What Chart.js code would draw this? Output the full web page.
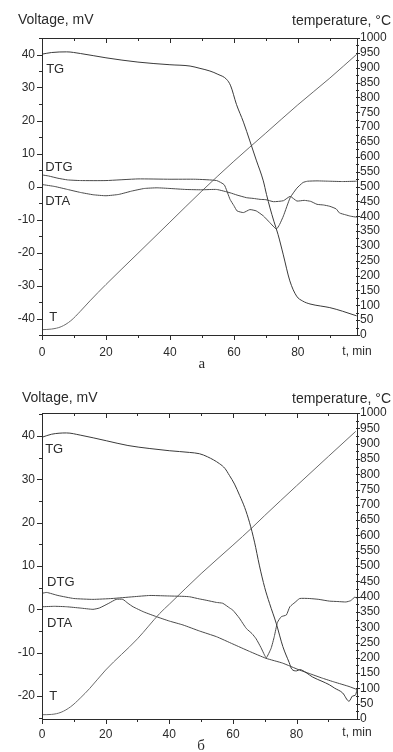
<!DOCTYPE html>
<html>
<head>
<meta charset="utf-8">
<script src="https://cdn.jsdelivr.net/npm/chart.js@4"></script>
<style>
  html, body { margin: 0; padding: 0; background: #fff; }
  body { width: 393px; height: 752px; position: relative; overflow: hidden; }
  canvas { position: absolute; left: 0; }
</style>
</head>
<body>
<canvas id="chartA" width="393" height="375" style="top:0"></canvas>
<canvas id="chartB" width="393" height="377" style="top:375px"></canvas>
<script>
// tick labels
const timeTicks = [0, 20, 40, 60, 80];
const voltTicksA = [-40, -30, -20, -10, 0, 10, 20, 30, 40];
const voltTicksB = [-20, -10, 0, 10, 20, 30, 40];
const tempTicks = [0, 50, 100, 150, 200, 250, 300, 350, 400, 450, 500, 550, 600, 650, 700, 750, 800, 850, 900, 950, 1000];

// panel "а"
const tgTimeA = [0, 3, 7.7, 12, 20, 30, 40, 46.3, 49.4, 52.5, 55, 57.7, 59, 60.8, 63, 65, 67, 69.2, 70.2, 71.3, 72.5, 73.8, 75.4, 77.5, 79.6, 81.5, 83.8, 87, 90, 94, 98.4];
const tgA = [40.1, 40.6, 40.8, 40.3, 39.0, 37.7, 36.9, 36.5, 35.8, 35.0, 34.0, 32.5, 30.5, 24.9, 19.5, 13.8, 8.0, 1.7, -2.4, -6.5, -10.5, -14.5, -20.5, -28.6, -33.2, -34.7, -35.6, -36.2, -36.7, -37.8, -39.2];
const dtgTimeA = [0, 2, 5, 8, 12, 20, 30, 40, 48, 54.6, 57, 58.8, 60, 61, 63, 65, 67, 69.2, 71.2, 73.3, 74.3, 75.5, 77.6, 79.7, 81.6, 83, 86, 90, 94, 98.4];
const dtgA = [3.5, 3.2, 2.5, 2.0, 1.8, 1.8, 2.3, 2.2, 2.2, 1.8, 0.5, -3.9, -5.8, -7.4, -7.9, -7.0, -7.4, -8.9, -10.9, -12.9, -11.5, -8.9, -3.4, -0.5, 1.2, 1.6, 1.7, 1.6, 1.5, 1.6];
const dtaTimeA = [0, 4, 8, 12, 16, 20, 24, 28, 32, 36, 40, 45, 50, 54.6, 58.8, 61, 64, 66, 68.2, 70, 72.4, 75.5, 77.6, 79.7, 82, 84, 86, 88, 90, 92, 93, 95, 96.5, 98.4];
const dtaA = [0.6, 0.0, -0.9, -1.8, -2.5, -2.8, -2.4, -1.4, -0.6, -0.4, -0.6, -0.9, -1.0, -0.9, -1.9, -2.6, -3.4, -3.6, -3.9, -4.0, -4.6, -4.3, -3.0, -4.4, -4.2, -4.5, -5.4, -5.6, -6.0, -6.8, -8.0, -8.6, -9.0, -9.3];
const tempTimeA = [0, 3, 6, 9, 12, 15, 20, 30, 40, 50, 60, 70, 80, 90, 98.4];
const tempA = [18, 20, 28, 48, 80, 115, 170, 275, 380, 485, 585, 680, 775, 865, 945];

// panel "б"
const tgTimeB = [0, 3, 7.7, 12, 20.2, 27, 33.9, 40, 46.4, 49.5, 52, 55.8, 57.5, 58.9, 60.5, 62.1, 63.7, 65.2, 66.8, 68.3, 70, 71.5, 73.6, 75.7, 77.7, 78.5, 80, 81, 83, 85, 88, 90.3, 92, 94.5, 96.5, 97.6, 98.5, 99];
const tgB = [39.7, 40.4, 40.7, 40.2, 38.9, 37.8, 37.1, 36.6, 36.2, 35.9, 35.2, 33.6, 32.5, 30.9, 28.9, 26.3, 23.5, 20.1, 15.5, 10.2, 5.0, 1.4, -3.2, -8.6, -12.3, -13.8, -14.2, -13.9, -14.6, -15.6, -16.6, -17.4, -18.2, -19.3, -21.2, -20.0, -19.8, -18.6];
const dtgTimeB = [0, 1.5, 5, 10, 16, 22, 28.6, 33.9, 39, 44.3, 46.4, 49.5, 51.6, 54.8, 56.8, 59, 60, 62, 64.2, 66, 67.3, 68.8, 69.9, 70.5, 72, 73, 74, 75.2, 76.8, 77.9, 79.5, 81, 84, 87, 90.3, 93, 95.5, 97, 98.3, 99];
const dtgB = [3.7, 3.9, 3.2, 2.5, 2.3, 2.5, 2.9, 3.2, 3.1, 3.0, 2.9, 2.4, 2.1, 1.6, 1.4, 0.3, -0.2, -2.0, -4.4, -5.6, -6.8, -8.8, -10.5, -11.2, -9.0, -6.3, -3.0, -1.7, -1.3, 0.6, 1.6, 2.5, 2.5, 2.3, 1.9, 1.8, 1.7, 2.0, 2.8, 2.6];
const dtaTimeB = [0, 4, 7.7, 12, 16, 18, 21, 23.3, 25.4, 27, 28.6, 32, 36, 40, 44.3, 49.5, 54.8, 60, 65.2, 70.4, 75.6, 80.9, 84, 88.2, 92, 96.5, 99];
const dtaB = [0.6, 0.7, 0.6, 0.3, 0.0, 0.3, 1.4, 2.3, 2.3, 1.4, 0.6, -0.6, -1.7, -2.7, -3.6, -5.0, -6.3, -8.0, -9.7, -11.3, -12.4, -14.0, -14.8, -15.9, -16.8, -17.8, -18.5];
const tempTimeB = [0, 3, 6, 9, 12, 15, 20, 30, 37, 40, 50, 60, 66, 70, 80, 90, 98.6];
const tempB = [14, 15, 22, 40, 68, 100, 160, 262, 345, 375, 475, 568, 625, 665, 762, 858, 940];

// curve captions, placed in (t, mV) units
const captionNames = ['TG', 'DTG', 'DTA', 'T'];
const captionTimeA = [1.3, 1.0, 1.0, 2.3];
const captionVoltA = [35.6, 5.7, -4.4, -39.8];
const captionTimeB = [1.0, 1.6, 1.6, 2.3];
const captionVoltB = [36.8, 6.1, -3.2, -20.2];

const FONT = '"Liberation Sans", Arial, sans-serif';
const INK = '#2b2b2b';

function pts(xs, ys) {
  return xs.map((x, i) => ({ x: x, y: ys[i] }));
}

// frame with ticks + text that is not part of the scales
const framePlugin = {
  id: 'frame',
  afterDraw(chart, args, opts) {
    const { ctx, chartArea: a, scales } = chart;
    const seg = (x1, y1, x2, y2) => { ctx.beginPath(); ctx.moveTo(x1, y1); ctx.lineTo(x2, y2); ctx.stroke(); };
    ctx.save();
    ctx.strokeStyle = INK;
    ctx.lineWidth = 1;
    ctx.strokeRect(Math.round(a.left) + 0.5, Math.round(a.top) + 0.5, Math.round(a.right - a.left), Math.round(a.bottom - a.top));

    for (let t = 0; t <= scales.x.max; t += 10) {
      const px = Math.round(scales.x.getPixelForValue(t)) + 0.5;
      const len = t % 20 === 0 ? 5 : 3;
      seg(px, a.bottom, px, a.bottom + len);
      seg(px, a.top, px, a.top + len);
    }
    for (let v = Math.ceil(scales.y.min / 5) * 5; v <= scales.y.max; v += 5) {
      const py = Math.round(scales.y.getPixelForValue(v)) + 0.5;
      const len = v % 10 === 0 ? 5 : 3;
      seg(a.left - len, py, a.left, py);
    }
    for (let v = 0; v <= scales.y2.max; v += 25) {
      const py = Math.round(scales.y2.getPixelForValue(v)) + 0.5;
      const len = v % 50 === 0 ? 3 : 2;
      seg(a.right - 1, py, a.right + len, py);
    }

    ctx.fillStyle = INK;
    ctx.font = '14px ' + FONT;
    ctx.textBaseline = 'alphabetic';
    ctx.textAlign = 'left';
    ctx.fillText('Voltage, mV', opts.voltX, a.top - opts.titleGap);
    ctx.textAlign = 'right';
    ctx.fillText('temperature, \u00B0C', chart.width - 2, a.top - opts.titleGap + 1);

    ctx.font = '12px ' + FONT;
    ctx.textAlign = 'center';
    ctx.textBaseline = 'middle';
    ctx.fillText('t, min', a.right, a.bottom + opts.xLabelGap);

    ctx.font = '15px "Liberation Serif", "DejaVu Serif", serif';
    ctx.fillText(opts.panel, scales.x.getPixelForValue(50), opts.panelY);

    ctx.font = '13px ' + FONT;
    ctx.textAlign = 'left';
    opts.names.forEach((n, i) => {
      ctx.fillText(n, scales.x.getPixelForValue(opts.capT[i]), scales.y.getPixelForValue(opts.capV[i]));
    });
    ctx.restore();
  }
};

const fixedTicks = values => scale => { scale.ticks = values.map(v => ({ value: v })); };

function makeChart(id, cfg) {
  const line = (label, data, axis, color, smooth) => ({
    label: label,
    data: data,
    yAxisID: axis,
    borderColor: color,
    borderWidth: 1,
    pointRadius: 0,
    fill: false,
    cubicInterpolationMode: smooth ? 'monotone' : 'default',
    tension: smooth ? 0 : 0.15,
  });
  const tickFont = { family: FONT, size: 12 };
  return new Chart(document.getElementById(id), {
    type: 'line',
    data: {
      datasets: [
        line('TG', cfg.tg, 'y', '#3a3a3a', true),
        line('DTG', cfg.dtg, 'y', '#4a4a4a', false),
        line('DTA', cfg.dta, 'y', '#4a4a4a', false),
        line('T', cfg.temp, 'y2', '#6a6a6a', true),
      ]
    },
    options: {
      responsive: false,
      animation: false,
      layout: { padding: { top: 38, left: 0, right: 0, bottom: 0 } },
      plugins: {
        legend: { display: false },
        tooltip: { enabled: false },
        frame: cfg.frame,
      },
      scales: {
        x: {
          type: 'linear', min: 0, max: cfg.xMax,
          afterBuildTicks: fixedTicks(timeTicks),
          afterFit: s => { s.height = cfg.xHeight; },
          grid: { display: false, drawTicks: false }, border: { display: false },
          ticks: { autoSkip: false, maxRotation: 0, padding: cfg.xPad, color: INK, font: tickFont, callback: v => String(v) }
        },
        y: {
          position: 'left', min: cfg.yMin, max: cfg.yMax,
          afterBuildTicks: fixedTicks(cfg.voltTicks),
          afterFit: s => { s.width = 42; },
          grid: { display: false, drawTicks: false }, border: { display: false },
          ticks: { autoSkip: false, padding: 7, color: INK, font: tickFont, callback: v => String(v) }
        },
        y2: {
          position: 'right', min: 0, max: 1000,
          afterBuildTicks: fixedTicks(tempTicks),
          afterFit: s => { s.width = 36; },
          grid: { display: false, drawTicks: false }, border: { display: false },
          ticks: { autoSkip: false, padding: 3, color: INK, font: tickFont, callback: v => String(v) }
        }
      }
    },
    plugins: [framePlugin]
  });
}

Chart.defaults.font.family = FONT;

makeChart('chartA', {
  tg: pts(tgTimeA, tgA), dtg: pts(dtgTimeA, dtgA), dta: pts(dtaTimeA, dtaA), temp: pts(tempTimeA, tempA),
  xMax: 98.5, xHeight: 40, xPad: 10, yMin: -45, yMax: 45, voltTicks: voltTicksA,
  frame: { panel: '\u0430', panelY: 364, voltX: 18, titleGap: 14, xLabelGap: 17, names: captionNames, capT: captionTimeA, capV: captionVoltA }
});

makeChart('chartB', {
  tg: pts(tgTimeB, tgB), dtg: pts(dtgTimeB, dtgB), dta: pts(dtaTimeB, dtaB), temp: pts(tempTimeB, tempB),
  xMax: 99, xHeight: 33, xPad: 8, yMin: -25.3, yMax: 45.3, voltTicks: voltTicksB,
  frame: { panel: '\u0431', panelY: 371, voltX: 22, titleGap: 11, xLabelGap: 14, names: captionNames, capT: captionTimeB, capV: captionVoltB }
});
</script>
</body>
</html>
